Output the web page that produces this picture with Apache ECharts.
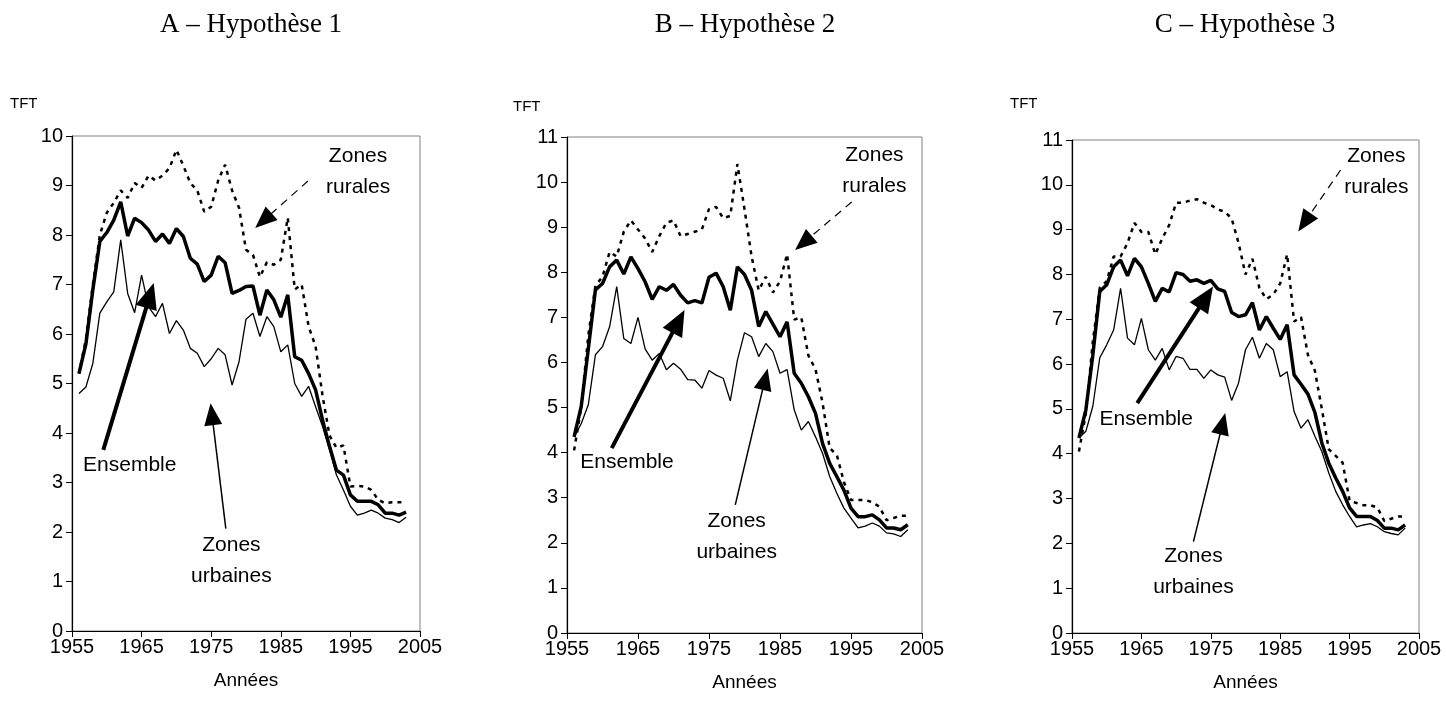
<!DOCTYPE html>
<html lang="fr">
<head>
<meta charset="UTF-8" />
<title>TFT</title>
<script src="https://cdn.jsdelivr.net/npm/echarts@6/dist/echarts.min.js"></script>
<style>
  html, body { margin: 0; padding: 0; background: #fff; }
  #chart { width: 1446px; height: 717px; }
</style>
</head>
<body>
<div id="chart"></div>
<script>
const years = [1956, 1957, 1958, 1959, 1960, 1961, 1962, 1963, 1964, 1965,
  1966, 1967, 1968, 1969, 1970, 1971, 1972, 1973, 1974, 1975,
  1976, 1977, 1978, 1979, 1980, 1981, 1982, 1983, 1984, 1985,
  1986, 1987, 1988, 1989, 1990, 1991, 1992, 1993, 1994, 1995,
  1996, 1997, 1998, 1999, 2000, 2001, 2002, 2003];

const xTicks = [1955, 1965, 1975, 1985, 1995, 2005];

// A - Hypothese 1
const ensembleA = [5.2, 5.8, 6.9, 7.87, 8.05, 8.3, 8.67, 7.98, 8.34, 8.25,
  8.1, 7.87, 8.02, 7.83, 8.13, 7.97, 7.53, 7.41, 7.06, 7.19,
  7.57, 7.44, 6.82, 6.88, 6.96, 6.97, 6.38, 6.89, 6.69, 6.34,
  6.79, 5.54, 5.47, 5.2, 4.87, 4.26, 3.73, 3.25, 3.15, 2.75,
  2.62, 2.62, 2.62, 2.55, 2.38, 2.38, 2.34, 2.4];
const urbainA = [4.8, 4.93, 5.41, 6.42, 6.65, 6.85, 7.9, 6.82, 6.43, 7.19,
  6.55, 6.35, 6.62, 6.01, 6.27, 6.08, 5.71, 5.61, 5.34, 5.5,
  5.71, 5.58, 4.97, 5.44, 6.3, 6.42, 5.95, 6.35, 6.15, 5.64,
  5.78, 5.0, 4.74, 4.94, 4.53, 4.13, 3.66, 3.15, 2.85, 2.52,
  2.34, 2.38, 2.44, 2.38, 2.28, 2.25, 2.19, 2.3];
const ruralA = [5.2, 5.9, 7.0, 8.0, 8.45, 8.65, 8.9, 8.75, 9.05, 8.95,
  9.2, 9.1, 9.2, 9.35, 9.72, 9.4, 9.05, 8.9, 8.47, 8.57,
  9.1, 9.42, 8.9, 8.55, 7.7, 7.6, 7.15, 7.45, 7.4, 7.5,
  8.35, 6.9, 7.0, 6.15, 5.75, 4.75, 3.95, 3.7, 3.75, 2.92,
  2.93, 2.92, 2.85, 2.65, 2.58, 2.6, 2.6, 2.6];

// B - Hypothese 2
const ensembleB = [4.35, 5.02, 6.3, 7.61, 7.75, 8.12, 8.27, 7.96, 8.34, 8.08,
  7.79, 7.4, 7.68, 7.6, 7.73, 7.49, 7.32, 7.37, 7.32, 7.89,
  7.98, 7.68, 7.16, 8.12, 7.95, 7.6, 6.8, 7.13, 6.85, 6.57,
  6.9, 5.76, 5.54, 5.24, 4.87, 4.2, 3.76, 3.47, 3.17, 2.77,
  2.58, 2.58, 2.62, 2.51, 2.33, 2.33, 2.29, 2.4];
const urbainB = [4.35, 4.64, 5.06, 6.17, 6.35, 6.79, 7.68, 6.53, 6.42, 7.0,
  6.3, 6.05, 6.2, 5.84, 5.98, 5.85, 5.62, 5.61, 5.43, 5.82,
  5.72, 5.65, 5.15, 6.05, 6.66, 6.57, 6.13, 6.42, 6.24, 5.76,
  5.84, 4.95, 4.5, 4.69, 4.35, 3.98, 3.47, 3.1, 2.77, 2.55,
  2.33, 2.37, 2.44, 2.37, 2.22, 2.2, 2.14, 2.29];
const ruralB = [4.05, 5.0, 6.6, 7.7, 7.9, 8.45, 8.35, 8.9, 9.15, 8.95,
  8.75, 8.45, 8.8, 9.1, 9.15, 8.8, 8.85, 8.9, 8.95, 9.4,
  9.45, 9.2, 9.25, 10.4, 9.4, 8.35, 7.6, 7.9, 7.55, 7.8,
  8.4, 6.95, 7.0, 6.15, 5.85, 5.1, 4.1, 3.95, 3.35, 2.95,
  2.95, 2.95, 2.9, 2.8, 2.5, 2.55, 2.6, 2.6];

// C - Hypothese 3
const ensembleC = [4.35, 4.98, 6.2, 7.62, 7.77, 8.17, 8.32, 7.97, 8.36, 8.17,
  7.8, 7.4, 7.69, 7.61, 8.04, 8.0, 7.85, 7.88, 7.8, 7.87,
  7.68, 7.62, 7.15, 7.06, 7.1, 7.37, 6.76, 7.06, 6.8, 6.55,
  6.88, 5.76, 5.55, 5.33, 4.92, 4.24, 3.79, 3.46, 3.16, 2.79,
  2.6, 2.6, 2.6, 2.51, 2.34, 2.34, 2.3, 2.41];
const urbainC = [4.35, 4.5, 5.06, 6.14, 6.43, 6.76, 7.69, 6.58, 6.43, 7.02,
  6.32, 6.09, 6.35, 5.87, 6.17, 6.13, 5.88, 5.88, 5.68, 5.87,
  5.76, 5.71, 5.19, 5.58, 6.32, 6.6, 6.13, 6.46, 6.32, 5.72,
  5.83, 4.94, 4.57, 4.76, 4.39, 4.05, 3.57, 3.16, 2.86, 2.6,
  2.37, 2.41, 2.44, 2.37, 2.26, 2.22, 2.19, 2.34];
const ruralC = [4.05, 4.9, 6.5, 7.7, 7.85, 8.4, 8.4, 8.7, 9.15, 8.95,
  8.95, 8.45, 8.8, 9.1, 9.6, 9.6, 9.65, 9.68, 9.6, 9.55,
  9.45, 9.4, 9.25, 8.7, 8.0, 8.35, 7.7, 7.45, 7.55, 7.8,
  8.45, 6.95, 7.05, 6.2, 5.85, 5.0, 4.1, 3.95, 3.8, 2.95,
  2.9, 2.85, 2.85, 2.8, 2.5, 2.55, 2.6, 2.6];

const SANS = "Liberation Sans, Arial, sans-serif";
const SERIF = "Liberation Serif, Times New Roman, serif";

// layout of each panel + annotations (arrow ends / text centres in data coordinates)
const panels = [
  {
    title: "A – Hypothèse 1", titleX: 246, tftX: 10, tftY: 96,
    grid: { left: 72, top: 136, width: 348, height: 495 }, ymax: 10,
    ens: ensembleA, urb: urbainA, rur: ruralA,
    rurArrow: [[1988.9, 9.09], [1982.5, 8.29]], rurText: [1996.1, 9.27],
    ensArrow: [[1959.5, 3.66], [1966.2, 6.78]], ensText: [1963.3, 3.35],
    urbArrow: [[1977.1, 2.07], [1975.1, 4.38]], urbText: [1977.9, 1.43],
  },
  {
    title: "B – Hypothèse 2", titleX: 740, tftX: 513, tftY: 99,
    grid: { left: 567, top: 137, width: 355, height: 496 }, ymax: 11,
    ens: ensembleB, urb: urbainB, rur: ruralB,
    rurArrow: [[1995.1, 9.56], [1988.3, 8.65]], rurText: [1998.3, 10.26],
    ensArrow: [[1961.3, 4.1], [1970.7, 6.91]], ensText: [1963.45, 3.78],
    urbArrow: [[1978.7, 2.84], [1982.9, 5.63]], urbText: [1978.9, 2.13],
  },
  {
    title: "C – Hypothèse 3", titleX: 1240, tftX: 1010, tftY: 96,
    grid: { left: 1072, top: 140, width: 347, height: 493 }, ymax: 11,
    ens: ensembleC, urb: urbainC, rur: ruralC,
    rurArrow: [[1993.7, 10.33], [1988.5, 9.16]], rurText: [1998.85, 10.29],
    ensArrow: [[1964.4, 5.13], [1974.3, 7.49]], ensText: [1965.7, 4.76],
    urbArrow: [[1972.5, 2.04], [1976.7, 4.67]], urbText: [1972.5, 1.37],
  },
];

function pairs(vals) {
  return years.map((y, i) => [y, vals[i]]);
}

function arrow(pts, width, type, head) {
  return {
    silent: true,
    symbol: ["none", "triangle"],
    symbolSize: head,
    label: { show: false },
    lineStyle: { color: "#000", width: width, type: type },
    data: [[{ coord: pts[0] }, { coord: pts[1] }]],
  };
}

function textMark(coord, text) {
  return {
    silent: true,
    symbol: "rect",
    symbolSize: 1,
    itemStyle: { color: "rgba(0,0,0,0)" },
    label: {
      show: true, position: "inside", formatter: text,
      fontFamily: SANS, fontSize: 21, lineHeight: 31, color: "#000",
    },
    data: [{ coord: coord }],
  };
}

const chart = echarts.init(document.getElementById("chart"));

const option = {
  animation: false,
  backgroundColor: "#fff",
  title: [],
  grid: [],
  xAxis: [],
  yAxis: [],
  graphic: [],
  series: [],
};

panels.forEach((p, i) => {
  option.title.push({
    text: p.title, left: p.titleX, top: 6, textAlign: "center",
    textStyle: { fontFamily: SERIF, fontSize: 27, fontWeight: "normal", color: "#000" },
  });
  option.graphic.push({
    type: "text", left: p.tftX, top: p.tftY,
    style: { text: "TFT", font: "15px " + SANS, fill: "#000" },
  });
  option.grid.push(Object.assign({
    show: true, borderColor: "#808080", borderWidth: 1, backgroundColor: "#fff",
  }, p.grid));
  option.xAxis.push({
    type: "value", gridIndex: i, min: xTicks[0], max: xTicks[xTicks.length - 1], interval: 10,
    name: "Années", nameLocation: "middle", nameGap: 40,
    nameTextStyle: { fontFamily: SANS, fontSize: 19, color: "#000" },
    axisLine: { lineStyle: { color: "#000", width: 1.2 } },
    axisTick: { show: true, length: 6, lineStyle: { color: "#000" } },
    axisLabel: {
      fontFamily: SANS, fontSize: 20, color: "#000", margin: 6,
      formatter: (v) => String(v),
    },
    splitLine: { show: false },
  });
  option.yAxis.push({
    type: "value", gridIndex: i, min: 0, max: p.ymax, interval: 1,
    axisLine: { show: true, lineStyle: { color: "#000", width: 1.2 } },
    axisTick: { show: true, length: 6, lineStyle: { color: "#000" } },
    axisLabel: { fontFamily: SANS, fontSize: 20, color: "#000", margin: 9 },
    splitLine: { show: false },
  });

  option.series.push({
    name: "Zones rurales", type: "line", xAxisIndex: i, yAxisIndex: i,
    data: pairs(p.rur), symbol: "none",
    lineStyle: { color: "#000", width: 2.5, type: [4, 5] },
    markLine: arrow(p.rurArrow, 1.2, [8, 6], [18, 22]),
    markPoint: textMark(p.rurText, "Zones\nrurales"),
  });
  option.series.push({
    name: "Zones urbaines", type: "line", xAxisIndex: i, yAxisIndex: i,
    data: pairs(p.urb), symbol: "none",
    lineStyle: { color: "#000", width: 1.3 },
    markLine: arrow(p.urbArrow, 1.5, "solid", [18, 22]),
    markPoint: textMark(p.urbText, "Zones\nurbaines"),
  });
  option.series.push({
    name: "Ensemble", type: "line", xAxisIndex: i, yAxisIndex: i,
    data: pairs(p.ens), symbol: "none",
    lineStyle: { color: "#000", width: 3.5 },
    markLine: arrow(p.ensArrow, 4, "solid", [22, 26]),
    markPoint: textMark(p.ensText, "Ensemble"),
  });
});

chart.setOption(option);
</script>
</body>
</html>
